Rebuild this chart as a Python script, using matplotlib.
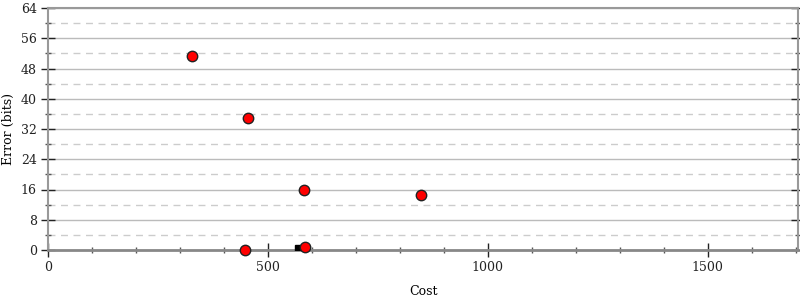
import matplotlib
matplotlib.use("Agg")
import matplotlib.pyplot as plt
from matplotlib.ticker import MultipleLocator

cost = [327, 455, 582, 848, 448, 584]
error = [51.3, 34.9, 15.9, 14.5, 0.0, 0.8]
sq_cost = [568]
sq_error = [0.6]

plt.rcParams['font.family'] = ['DejaVu Serif']
fig = plt.figure(figsize=(8, 3), dpi=100)
ax = fig.add_axes([0.06, 50/300, 0.9975-0.06, (292-50)/300])

ax.set_xlim(0, 1705)
ax.set_ylim(0, 64)
ax.xaxis.set_major_locator(MultipleLocator(500))
ax.xaxis.set_minor_locator(MultipleLocator(100))
ax.yaxis.set_major_locator(MultipleLocator(8))
ax.yaxis.set_minor_locator(MultipleLocator(4))

ax.grid(True, which='major', axis='y', color='#bbbbbb', linewidth=1, linestyle='-')
ax.grid(True, which='minor', axis='y', color='#cccccc', linewidth=1, linestyle=(0, (5, 4)))
ax.set_axisbelow(True)

for s in ax.spines.values():
    s.set_color('#999999')
    s.set_linewidth(1.5)
ax.spines['bottom'].set_color('#888888')
ax.spines['bottom'].set_linewidth(2)

ax.tick_params(axis='both', which='major', direction='inout', length=10, width=1, colors='#222222', labelsize=9, pad=3)
ax.tick_params(axis='both', which='minor', direction='inout', length=4, width=1, colors='#555555')
ax.tick_params(axis='y', which='both', right=True, labelright=False)
ax.tick_params(axis='x', which='both', top=False)

ax.plot(sq_cost, sq_error, linestyle='none', marker='s', markersize=5, color='black', zorder=3, clip_on=True)
ax.plot(cost, error, linestyle='none', marker='o', markersize=7.5, markerfacecolor='red',
        markeredgecolor='#222222', markeredgewidth=1, zorder=4, clip_on=False)

ax.set_xlabel('Cost', fontsize=9, labelpad=8)
ax.set_ylabel('Error (bits)', fontsize=9, labelpad=4)

fig.savefig('out.png', dpi=100)
